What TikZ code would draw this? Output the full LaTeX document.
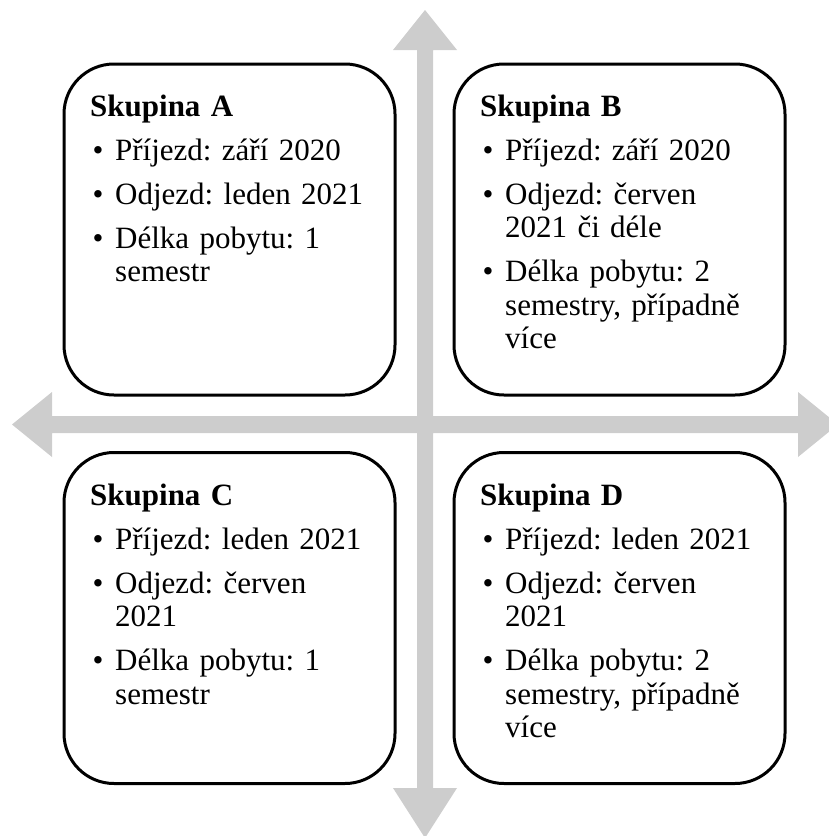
\documentclass[tikz,border=0pt]{standalone}
\usepackage{fontspec}
\setmainfont{Liberation Serif}
\frenchspacing
\definecolor{arrowgray}{RGB}{205,205,205}
\tikzset{
  groupbox/.style={draw=black, fill=white, line width=3pt, rounded corners=50pt,
    minimum width=331pt, minimum height=331pt, inner sep=0pt},
  grouptext/.style={anchor=base west, inner sep=0pt, text width=320pt, align=left,
    font=\fontsize{31pt}{33.5pt}\selectfont},
}
% one bullet item with a hanging indent
\newcommand\bul[1]{\par\vspace{10.5pt}\hangindent=25pt\hangafter=1\noindent\makebox[25pt][l]{\hspace{2.5pt}•}#1\par}
\begin{document}
\begin{tikzpicture}[x=1pt, y=-1pt]
\useasboundingbox (0,0) rectangle (829,836);
% four-way arrow behind the boxes
\fill[arrowgray] (425,10) -- (457,50) -- (433,50) -- (433,416) -- (798,416) -- (798,392)
  -- (838,424.5) -- (798,457) -- (798,433) -- (433,433) -- (433,788) -- (457,788)
  -- (425,838) -- (393,788) -- (417,788) -- (417,433) -- (52,433) -- (52,457)
  -- (12,424.5) -- (52,392) -- (52,416) -- (417,416) -- (417,50) -- (393,50) -- cycle;
% group boxes
\node[groupbox] (boxA) at (229.5,229.5) {};
\node[groupbox] (boxB) at (619.5,229.5) {};
\node[groupbox] (boxC) at (229.5,618) {};
\node[groupbox] (boxD) at (619.5,618) {};
% texts
\node[grouptext] (textA) at (90,116) {\textbf{Skupina A}
  \bul{Příjezd: září 2020}
  \bul{Odjezd: leden 2021}
  \bul{Délka pobytu: 1\newline semestr}};
\node[grouptext] (textB) at (480,116) {\textbf{Skupina B}
  \bul{Příjezd: září 2020}
  \bul{Odjezd: červen\newline 2021 či déle}
  \bul{Délka pobytu: 2\newline semestry, případně\newline více}};
\node[grouptext] (textC) at (90,505) {\textbf{Skupina C}
  \bul{Příjezd: leden 2021}
  \bul{Odjezd: červen\newline 2021}
  \bul{Délka pobytu: 1\newline semestr}};
\node[grouptext] (textD) at (480,505) {\textbf{Skupina D}
  \bul{Příjezd: leden 2021}
  \bul{Odjezd: červen\newline 2021}
  \bul{Délka pobytu: 2\newline semestry, případně\newline více}};
\end{tikzpicture}
\end{document}
